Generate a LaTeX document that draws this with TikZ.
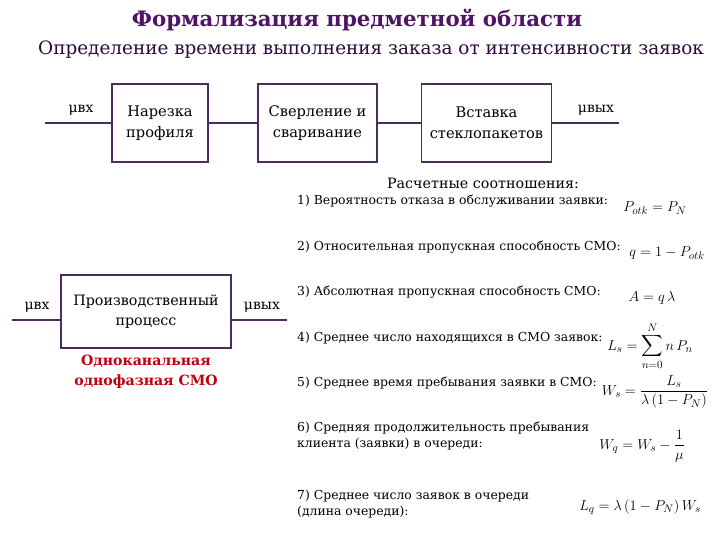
\documentclass[tikz,border=0pt]{standalone}
\usepackage{amsmath,amssymb}
\usepackage{fontspec}
\setmainfont{DejaVu Serif}
\usetikzlibrary{positioning}

\definecolor{boxline}{HTML}{4B2E5C}
\definecolor{titlecol}{HTML}{4E1466}
\definecolor{subcol}{HTML}{2A0A3A}
\definecolor{smored}{HTML}{C0000E}

\begin{document}
\begin{tikzpicture}[
    x=1pt, y=-1pt,
    stagebox/.style={
        rectangle,
        draw=boxline,
        line width=1.6pt,
        align=center,
        minimum height=78pt,
        font=\fontsize{14.6}{21}\selectfont
    },
    flow/.style={
        draw=boxline,
        line width=1.6pt
    },
    rate/.style={
        inner sep=0pt,
        font=\fontsize{14}{16}\selectfont
    },
    item/.style={
        anchor=west,
        align=left,
        inner sep=0pt,
        font=\fontsize{12.4}{16}\selectfont
    },
    formula/.style={
        inner sep=0pt,
        font=\fontsize{15}{17}\selectfont
    }
]
\useasboundingbox (0,0) rectangle (720,540);

% ------------------------------------------------
% Headings
% ------------------------------------------------

\node[font=\fontsize{21.3}{24}\selectfont\bfseries, text=titlecol] (title) at (357,20) {
    Формализация предметной области
};

\node[font=\fontsize{18.4}{21}\selectfont, text=subcol] (subtitle) at (371,50) {
    Определение времени выполнения заказа от интенсивности заявок
};

% ------------------------------------------------
% Production line
% ------------------------------------------------

\coordinate (in1) at (45,123);

\node[stagebox, minimum width=96pt] (cut) at (160,123) {
    Нарезка\\
    профиля
};

\node[stagebox, minimum width=119pt] (drill) at (317.5,123) {
    Сверление и\\
    сваривание
};

\node[stagebox, minimum width=130pt] (glass) at (486.5,123) {
    Вставка\\
    стеклопакетов
};

\coordinate (out1) at (619,123);

\node[rate] (in1lbl) at (81,110) {μвх};
\node[rate] (out1lbl) at (596,110) {μвых};

\draw[flow] (in1) -- (cut);
\draw[flow] (cut) -- (drill);
\draw[flow] (drill) -- (glass);
\draw[flow] (glass) -- (out1);

% ------------------------------------------------
% Single channel model
% ------------------------------------------------

\node[stagebox, minimum width=170pt, minimum height=73pt, font=\fontsize{14.3}{20}\selectfont] (proc) at (146,311.5) {
    Производственный\\
    процесс
};

\coordinate (in2) at (12,320);
\coordinate (out2) at (287,320);

\node[rate] (in2lbl) at (37,307) {μвх};
\node[rate] (out2lbl) at (262,307) {μвых};

\draw[flow] (in2) -- (in2 -| proc.west);
\draw[flow] (out2 -| proc.east) -- (out2);

\node[below=3pt of proc, align=center, text=smored,
      font=\fontsize{14.1}{20}\selectfont\bfseries] (smo) {
    Одноканальная\\
    однофазная СМО
};

% ------------------------------------------------
% Formulas
% ------------------------------------------------

\node[font=\fontsize{14.3}{16}\selectfont] (calc) at (483,183) {
    Расчетные соотношения:
};

\node[item] (f1) at (297,201) {1) Вероятность отказа в обслуживании заявки:};
\node[item] (f2) at (297,247) {2) Относительная пропускная способность СМО:};
\node[item] (f3) at (297,292) {3) Абсолютная пропускная способность СМО:};
\node[item] (f4) at (297,338) {4) Среднее число находящихся в СМО заявок:};
\node[item] (f5) at (297,383) {5) Среднее время пребывания заявки в СМО:};
\node[item] (f6) at (297,436) {6) Средняя продолжительность пребывания\\
    клиента (заявки) в очереди:};
\node[item] (f7) at (297,504) {7) Среднее число заявок в очереди\\
    (длина очереди):};

\node[formula] (p1) at (655,208) {$P_{otk}=P_N$};
\node[formula] (p2) at (667,253) {$q=1-P_{otk}$};
\node[formula] (p3) at (652,298) {$A=q\,\lambda$};
\node[formula] (p4) at (650,346) {$L_s=\displaystyle\sum_{n=0}^{N} n\,P_n$};
\node[formula] (p5) at (655,392) {$W_s=\dfrac{L_s}{\lambda\,(1-P_N)}$};
\node[formula] (p6) at (642,446) {$W_q=W_s-\dfrac{1}{\mu}$};
\node[formula] (p7) at (640,507) {$L_q=\lambda\,(1-P_N)\,W_s$};

\end{tikzpicture}
\end{document}
